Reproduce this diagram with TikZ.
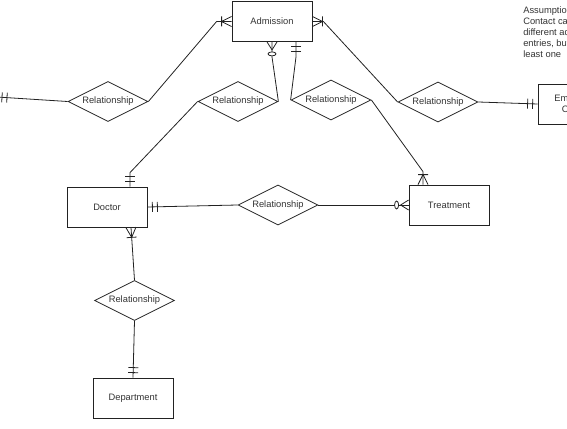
\documentclass[tikz,border=0pt]{standalone}
\usepackage{fontspec}
\setmainfont{Liberation Sans}
\usepackage{xcolor}
\usepackage{tikz}
\usetikzlibrary{positioning, shapes.geometric, decorations.markings}
\definecolor{erline}{HTML}{222222}
\definecolor{ertext}{HTML}{333333}

\begin{document}
\begin{tikzpicture}[x=0.75pt, y=-0.75pt,
  entity/.style={draw=erline, rectangle, line width=0.6pt, minimum width=60pt, minimum height=30pt,
    inner sep=1pt, font=\fontsize{7}{8.4}\selectfont, text=ertext, align=center},
  rel/.style={draw=erline, diamond, shape aspect=2, line width=0.6pt, minimum width=60pt, minimum height=30pt,
    inner sep=0pt, font=\fontsize{7}{8.4}\selectfont, text=ertext},
  link/.style={draw=erline, line width=0.6pt},
  mandone/.style={link, postaction={decorate, decoration={markings, mark=at position 1 with {
    \draw[erline, line width=0.6pt] (-3.75pt,-3.75pt) -- (-3.75pt,3.75pt) (-7.5pt,-3.75pt) -- (-7.5pt,3.75pt);}}}},
  onemany/.style={link, postaction={decorate, decoration={markings, mark=at position 1 with {
    \draw[erline, line width=0.6pt] (0,-3.75pt) -- (-7.5pt,0) -- (0,3.75pt) (-7.5pt,-3.75pt) -- (-7.5pt,3.75pt);}}}},
  zeromany/.style={link, postaction={decorate, decoration={markings, mark=at position 1 with {
    \draw[erline, line width=0.6pt] (0,-3.75pt) -- (-6pt,0) -- (0,3.75pt);
    \draw[erline, line width=0.6pt, fill=white] (-9pt,0) ellipse [x radius=1.5pt, y radius=3pt];}}}}
]
\useasboundingbox (0,0) rectangle (567,428);
\clip (0,0) rectangle (567,428);

% entities
\node[entity] (adm) at (272,21.5) {Admission};
\node[entity] (emc) at (578,104) {Emergency\\Contact};
\node[entity] (doc) at (107,207) {Doctor};
\node[entity] (trt) at (449,205) {Treatment};
\node[entity] (dep) at (133,398) {Department};

% relationships
\node[rel] (r1) at (108,101.5) {Relationship};
\node[rel] (r2) at (238,101.5) {Relationship};
\node[rel] (r3) at (331,100) {Relationship};
\node[rel] (r4) at (438,102) {Relationship};
\node[rel] (r5) at (278,205) {Relationship};
\node[rel] (r6) at (134.5,300.5) {Relationship};

% note
\node[font=\fontsize{7}{8.25}\selectfont, text=ertext, align=left, anchor=north west, inner sep=0pt]
  (note) at (523,6) {Assumption: Emergency\\Contact can have\\different admission\\entries, but at\\least one};

% connectors
\coordinate (lft) at (-3,97);
\draw[mandone] (r1.west) -- (lft);
\draw[onemany] (r1.east) -- ([xshift=-11.25pt]adm.west) -- (adm.west);
\draw[onemany] (r4.west) -- ([xshift=8.25pt]adm.east) -- (adm.east);
\draw[mandone] (r4.east) -- (emc.west);

\draw[zeromany] (r2.east) -- ([yshift=-11.25pt]adm.south) -- (adm.south);
\draw[mandone] (r2.west) -- ([xshift=17.25pt, yshift=10.5pt]doc.north) -- ([xshift=17.25pt]doc.north);

\draw[mandone] (r3.west) -- ([xshift=18pt, yshift=-11.25pt]adm.south) -- ([xshift=18pt]adm.south);
\draw[onemany] (r3.east) -- ([xshift=-19.5pt, yshift=9.75pt]trt.north) -- ([xshift=-19.5pt]trt.north);

\draw[mandone] (r5.west) -- (doc.east);
\draw[zeromany] (r5.east) -- (trt.west);

\draw[onemany] (r6.north) -- ([xshift=18pt]doc.south);
\draw[mandone] (r6.south) -- (dep.north);
\end{tikzpicture}
\end{document}
